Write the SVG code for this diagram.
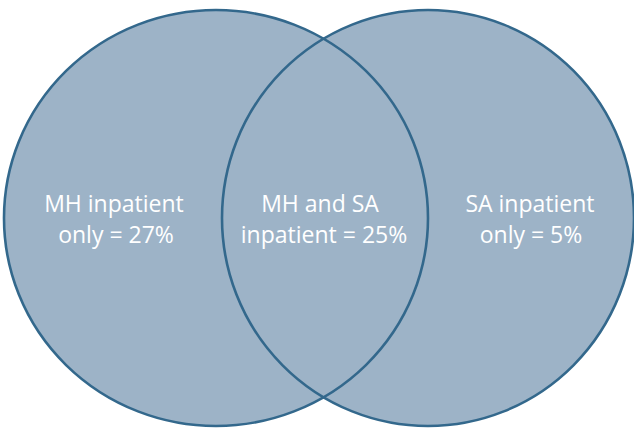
<svg xmlns="http://www.w3.org/2000/svg" width="634" height="428" viewBox="0 0 634 428">
<style>
.fill{fill:#9db3c7;stroke:none}
.ring{fill:none;stroke:#33688c;stroke-width:2.6}
.lbl{font-family:"Open Sans","DejaVu Sans",sans-serif;font-size:23px;fill:#ffffff;text-anchor:middle}
</style>
<rect width="634" height="428" fill="#ffffff"/>
<g id="fills">
<ellipse class="fill" cx="216" cy="218" rx="212" ry="208"/>
<ellipse class="fill" cx="428" cy="218" rx="206" ry="208"/>
</g>
<g id="outlines">
<ellipse class="ring" cx="216" cy="218" rx="212" ry="208"/>
<ellipse class="ring" cx="428" cy="218" rx="206" ry="208"/>
</g>
<g id="mh-only">
<text class="lbl" x="114" y="212">MH inpatient</text>
<text class="lbl" x="116" y="243">only = 27%</text>
</g>
<g id="both">
<text class="lbl" x="320" y="212">MH and SA</text>
<text class="lbl" x="324" y="243">inpatient = 25%</text>
</g>
<g id="sa-only">
<text class="lbl" x="530" y="212">SA inpatient</text>
<text class="lbl" x="531" y="243">only = 5%</text>
</g>
</svg>
